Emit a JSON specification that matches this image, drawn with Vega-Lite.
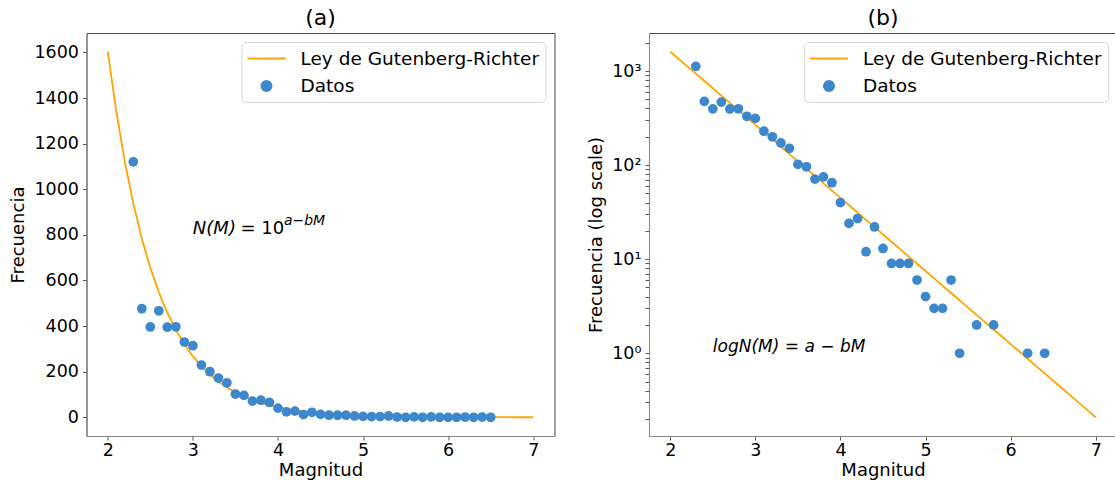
{
  "$schema": "https://vega.github.io/schema/vega-lite/v6.json",
  "background": "white",
  "padding": {"left": 8.5, "top": 6, "right": 0, "bottom": 0},
  "spacing": 31.5,
  "resolve": {"scale": {"color": "independent"}, "legend": {"color": "independent"}},
  "config": {
    "font": "DejaVu Sans",
    "view": {"stroke": "#444", "strokeWidth": 1},
    "axis": {
      "grid": false,
      "labelFontSize": 17.5,
      "titleFontSize": 18,
      "titleFontWeight": "normal",
      "labelColor": "#000",
      "titleColor": "#000",
      "domainColor": "#888",
      "tickColor": "#555",
      "tickSize": 4,
      "labelPadding": 4,
      "titlePadding": 6
    },
    "axisX": {"titlePadding": 2, "labelPadding": 1.5},
    "title": {"fontSize": 22, "fontWeight": "normal", "offset": 3.5, "color": "#000"},
    "legend": {
      "orient": "top-right",
      "offset": 9,
      "labelFontSize": 18.5,
      "labelColor": "#000",
      "labelLimit": 0,
      "strokeColor": "#d8d8d8",
      "cornerRadius": 4,
      "fillColor": "white",
      "padding": 6,
      "labelOffset": 32,
      "rowPadding": 7.5
    }
  },
  "datasets": {
    "pts": [
      {"magnitud": 2.3, "frecuencia": 1120},
      {"magnitud": 2.4, "frecuencia": 476},
      {"magnitud": 2.5, "frecuencia": 396},
      {"magnitud": 2.6, "frecuencia": 467},
      {"magnitud": 2.7, "frecuencia": 395},
      {"magnitud": 2.8, "frecuencia": 397},
      {"magnitud": 2.9, "frecuencia": 330},
      {"magnitud": 3.0, "frecuencia": 314},
      {"magnitud": 3.1, "frecuencia": 229},
      {"magnitud": 3.2, "frecuencia": 200},
      {"magnitud": 3.3, "frecuencia": 172},
      {"magnitud": 3.4, "frecuencia": 151},
      {"magnitud": 3.5, "frecuencia": 102},
      {"magnitud": 3.6, "frecuencia": 96},
      {"magnitud": 3.7, "frecuencia": 71},
      {"magnitud": 3.8, "frecuencia": 75},
      {"magnitud": 3.9, "frecuencia": 65},
      {"magnitud": 4.0, "frecuencia": 40},
      {"magnitud": 4.1, "frecuencia": 24},
      {"magnitud": 4.2, "frecuencia": 27},
      {"magnitud": 4.3, "frecuencia": 12},
      {"magnitud": 4.4, "frecuencia": 22},
      {"magnitud": 4.5, "frecuencia": 13},
      {"magnitud": 4.6, "frecuencia": 9},
      {"magnitud": 4.7, "frecuencia": 9},
      {"magnitud": 4.8, "frecuencia": 9},
      {"magnitud": 4.9, "frecuencia": 6},
      {"magnitud": 5.0, "frecuencia": 4},
      {"magnitud": 5.1, "frecuencia": 3},
      {"magnitud": 5.2, "frecuencia": 3},
      {"magnitud": 5.3, "frecuencia": 6},
      {"magnitud": 5.4, "frecuencia": 1},
      {"magnitud": 5.5, "frecuencia": 0},
      {"magnitud": 5.6, "frecuencia": 2},
      {"magnitud": 5.7, "frecuencia": 0},
      {"magnitud": 5.8, "frecuencia": 2},
      {"magnitud": 5.9, "frecuencia": 0},
      {"magnitud": 6.0, "frecuencia": 0},
      {"magnitud": 6.1, "frecuencia": 0},
      {"magnitud": 6.2, "frecuencia": 1},
      {"magnitud": 6.3, "frecuencia": 0},
      {"magnitud": 6.4, "frecuencia": 1},
      {"magnitud": 6.5, "frecuencia": 0}
    ],
    "fit": [
      {"magnitud": 2.0, "frecuencia": 1603.2},
      {"magnitud": 2.1, "frecuencia": 1340.7},
      {"magnitud": 2.2, "frecuencia": 1121.0},
      {"magnitud": 2.3, "frecuencia": 937.4},
      {"magnitud": 2.4, "frecuencia": 783.9},
      {"magnitud": 2.5, "frecuencia": 655.5},
      {"magnitud": 2.6, "frecuencia": 548.1},
      {"magnitud": 2.7, "frecuencia": 458.3},
      {"magnitud": 2.8, "frecuencia": 383.3},
      {"magnitud": 2.9, "frecuencia": 320.5},
      {"magnitud": 3.0, "frecuencia": 267.9},
      {"magnitud": 3.1, "frecuencia": 224.1},
      {"magnitud": 3.2, "frecuencia": 187.4},
      {"magnitud": 3.3, "frecuencia": 156.6},
      {"magnitud": 3.4, "frecuencia": 131.0},
      {"magnitud": 3.5, "frecuencia": 109.5},
      {"magnitud": 3.6, "frecuencia": 91.6},
      {"magnitud": 3.7, "frecuencia": 76.6},
      {"magnitud": 3.8, "frecuencia": 64.0},
      {"magnitud": 3.9, "frecuencia": 53.5},
      {"magnitud": 4.0, "frecuencia": 44.8},
      {"magnitud": 4.1, "frecuencia": 37.4},
      {"magnitud": 4.2, "frecuencia": 31.3},
      {"magnitud": 4.3, "frecuencia": 26.2},
      {"magnitud": 4.4, "frecuencia": 21.9},
      {"magnitud": 4.5, "frecuencia": 18.3},
      {"magnitud": 4.6, "frecuencia": 15.3},
      {"magnitud": 4.7, "frecuencia": 12.8},
      {"magnitud": 4.8, "frecuencia": 10.7},
      {"magnitud": 4.9, "frecuencia": 8.95},
      {"magnitud": 5.0, "frecuencia": 7.48},
      {"magnitud": 5.1, "frecuencia": 6.26},
      {"magnitud": 5.2, "frecuencia": 5.23},
      {"magnitud": 5.3, "frecuencia": 4.37},
      {"magnitud": 5.4, "frecuencia": 3.66},
      {"magnitud": 5.5, "frecuencia": 3.06},
      {"magnitud": 5.6, "frecuencia": 2.56},
      {"magnitud": 5.7, "frecuencia": 2.14},
      {"magnitud": 5.8, "frecuencia": 1.79},
      {"magnitud": 5.9, "frecuencia": 1.50},
      {"magnitud": 6.0, "frecuencia": 1.25},
      {"magnitud": 6.1, "frecuencia": 1.05},
      {"magnitud": 6.2, "frecuencia": 0.874},
      {"magnitud": 6.3, "frecuencia": 0.731},
      {"magnitud": 6.4, "frecuencia": 0.611},
      {"magnitud": 6.5, "frecuencia": 0.511},
      {"magnitud": 6.6, "frecuencia": 0.427},
      {"magnitud": 6.7, "frecuencia": 0.357},
      {"magnitud": 6.8, "frecuencia": 0.299},
      {"magnitud": 6.9, "frecuencia": 0.250},
      {"magnitud": 7.0, "frecuencia": 0.209}
    ]
  },
  "hconcat": [
    {
      "width": 468,
      "height": 403,
      "title": {"text": "(a)"},
      "encoding": {
        "x": {"field": "magnitud", "type": "quantitative", "title": "Magnitud",
              "scale": {"domain": [1.75, 7.25], "nice": false, "zero": false},
              "axis": {"values": [2, 3, 4, 5, 6, 7]}},
        "y": {"field": "frecuencia", "type": "quantitative", "title": "Frecuencia",
              "scale": {"domain": [-82, 1685], "nice": false, "zero": false},
              "axis": {"values": [0, 200, 400, 600, 800, 1000, 1200, 1400, 1600], "format": "d", "labelOverlap": false}}
      },
      "layer": [
        {
          "data": {"name": "fit"},
          "mark": {"type": "line", "strokeWidth": 1.8, "clip": true},
          "encoding": {
            "color": {"datum": "Ley de Gutenberg-Richter", "type": "nominal",
              "scale": {"domain": ["Ley de Gutenberg-Richter", "Datos"], "range": ["#ffa500", "#3d88cc"]},
              "legend": {"title": null, "orient": "top-right",
                "encode": {"symbols": {"update": {
                  "shape": {"signal": "datum.value === 'Datos' ? 'circle' : 'M-2,0H2'"},
                  "size": {"signal": "datum.value === 'Datos' ? 100 : 361"},
                  "x": {"value": 19},
                  "stroke": {"signal": "datum.value === 'Datos' ? 'transparent' : '#ffa500'"},
                  "fill": {"signal": "datum.value === 'Datos' ? '#3d88cc' : 'transparent'"},
                  "strokeWidth": {"value": 2},
                  "opacity": {"value": 1}
                }}}}}
          }
        },
        {
          "data": {"name": "pts"},
          "mark": {"type": "circle", "size": 95, "opacity": 1},
          "encoding": {"color": {"datum": "Datos", "type": "nominal"}}
        },
        {
          "data": {"values": [{"magnitud": 3.0, "frecuencia": 825, "texto": "N(M)"}]},
          "mark": {"type": "text", "fontSize": 18, "fontStyle": "italic", "align": "left", "baseline": "middle", "color": "#000"},
          "encoding": {"text": {"field": "texto", "type": "nominal"}}
        },
        {
          "data": {"values": [{"magnitud": 3.56, "frecuencia": 825, "texto": "= 10"}]},
          "mark": {"type": "text", "fontSize": 18, "align": "left", "baseline": "middle", "color": "#000"},
          "encoding": {"text": {"field": "texto", "type": "nominal"}}
        },
        {
          "data": {"values": [{"magnitud": 4.07, "frecuencia": 862, "texto": "a−bM"}]},
          "mark": {"type": "text", "fontSize": 14, "fontStyle": "italic", "align": "left", "baseline": "middle", "color": "#000"},
          "encoding": {"text": {"field": "texto", "type": "nominal"}}
        }
      ]
    },
    {
      "width": 468,
      "height": 403,
      "title": {"text": "(b)"},
      "encoding": {
        "x": {"field": "magnitud", "type": "quantitative", "title": "Magnitud",
              "scale": {"domain": [1.75, 7.25], "nice": false, "zero": false},
              "axis": {"values": [2, 3, 4, 5, 6, 7]}},
        "y": {"field": "frecuencia", "type": "quantitative", "title": "Frecuencia (log scale)",
              "scale": {"type": "log", "domain": [0.132, 2535], "nice": false},
              "axis": {"values": [0.2, 0.3, 0.4, 0.5, 0.6, 0.7, 0.8, 0.9, 1, 2, 3, 4, 5, 6, 7, 8, 9, 10, 20, 30, 40, 50, 60, 70, 80, 90, 100, 200, 300, 400, 500, 600, 700, 800, 900, 1000, 2000],
                       "labelOverlap": false, "labelBound": false,
                       "labelExpr": "datum.value == 1 ? '10⁰' : datum.value == 10 ? '10¹' : datum.value == 100 ? '10²' : datum.value == 1000 ? '10³' : ''",
                       "encode": {"ticks": {"update": {"x2": {"signal": "(datum.value == 1 || datum.value == 10 || datum.value == 100 || datum.value == 1000) ? -4 : -2"}}}}}}
      },
      "layer": [
        {
          "data": {"name": "fit"},
          "mark": {"type": "line", "strokeWidth": 1.8, "clip": true},
          "encoding": {
            "color": {"datum": "Ley de Gutenberg-Richter", "type": "nominal",
              "scale": {"domain": ["Ley de Gutenberg-Richter", "Datos"], "range": ["#ffa500", "#3d88cc"]},
              "legend": {"title": null, "orient": "top-right",
                "encode": {"symbols": {"update": {
                  "shape": {"signal": "datum.value === 'Datos' ? 'circle' : 'M-2,0H2'"},
                  "size": {"signal": "datum.value === 'Datos' ? 100 : 361"},
                  "x": {"value": 19},
                  "stroke": {"signal": "datum.value === 'Datos' ? 'transparent' : '#ffa500'"},
                  "fill": {"signal": "datum.value === 'Datos' ? '#3d88cc' : 'transparent'"},
                  "strokeWidth": {"value": 2},
                  "opacity": {"value": 1}
                }}}}}
          }
        },
        {
          "data": {"name": "pts"},
          "transform": [{"filter": "datum.frecuencia > 0"}],
          "mark": {"type": "circle", "size": 95, "opacity": 1},
          "encoding": {"color": {"datum": "Datos", "type": "nominal"}}
        },
        {
          "data": {"values": [{"magnitud": 2.5, "frecuencia": 1.17, "ecuacion": "logN(M) = a − bM"}]},
          "mark": {"type": "text", "fontSize": 17, "fontStyle": "italic", "align": "left", "baseline": "middle", "color": "#000"},
          "encoding": {
            "text": {"field": "ecuacion", "type": "nominal"}
          }
        }
      ]
    }
  ]
}
